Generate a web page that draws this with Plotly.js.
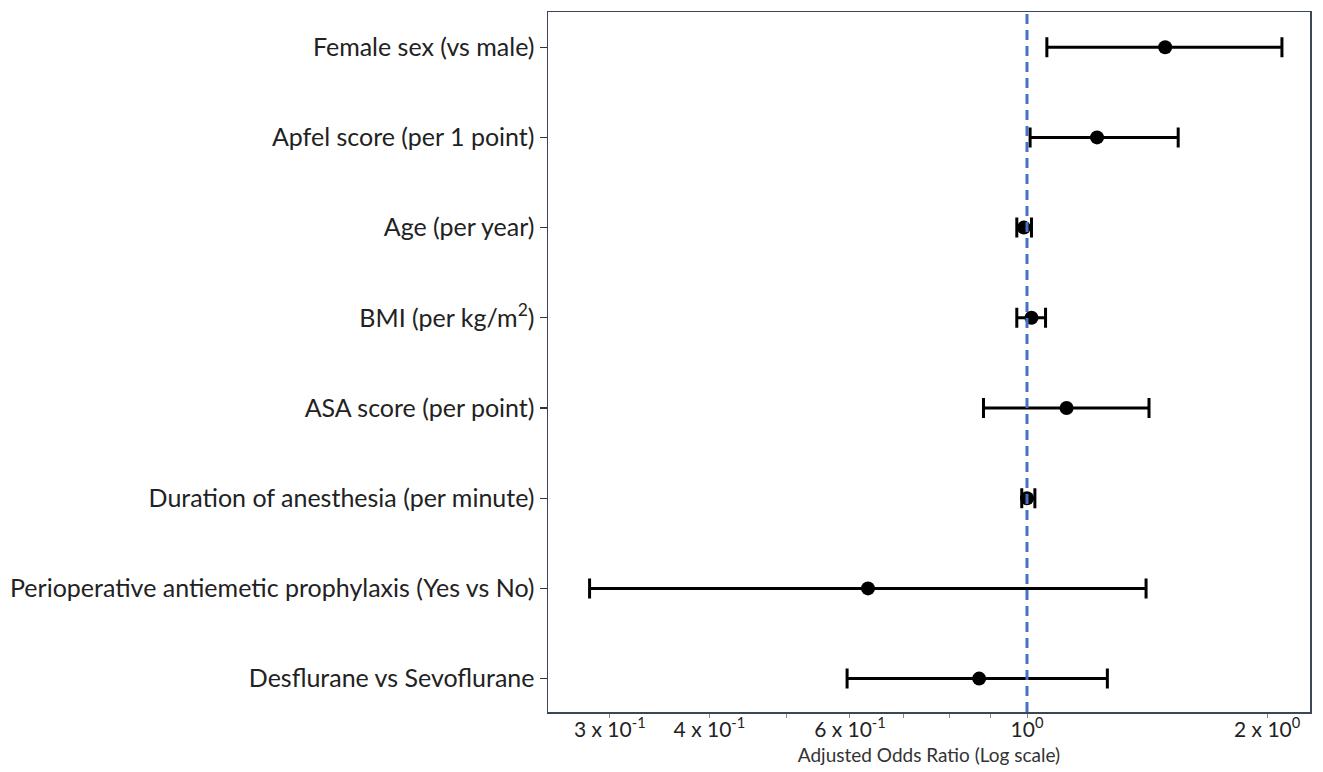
<!DOCTYPE html>
<html>
<head>
<meta charset="utf-8">
<script src="https://cdn.plot.ly/plotly-3.0.1.min.js"></script>
<style>html,body{margin:0;padding:0;background:#fff;}#chart{width:1323px;height:772px;}</style>
</head>
<body>
<div id="chart"></div>
<script>
const labels = [
  "Female sex (vs male)",
  "Apfel score (per 1 point)",
  "Age (per year)",
  "BMI (per kg/m<sup>2</sup>)",
  "ASA score (per point)",
  "Duration of anesthesia (per minute)",
  "Perioperative antiemetic prophylaxis (Yes vs No)",
  "Desflurane vs Sevoflurane"
];
const oddsRatio = [1.49, 1.224, 0.991, 1.013, 1.121, 1.000, 0.632, 0.871];
const ciLow     = [1.059, 1.009, 0.971, 0.971, 0.882, 0.985, 0.283, 0.595];
const ciHigh    = [2.087, 1.547, 1.013, 1.055, 1.422, 1.023, 1.410, 1.261];
const xTickVals = [0.3, 0.4, 0.5, 0.6, 0.7, 0.8, 0.9, 1, 2];
const xTickText = ["3 x 10<sup>-1</sup>", "4 x 10<sup>-1</sup>", "", "6 x 10<sup>-1</sup>", "", "", "", "10<sup>0</sup>", "2 x 10<sup>0</sup>"];

const pos = labels.map((_, i) => i);
const trace = {
  type: "scatter",
  mode: "markers",
  x: oddsRatio,
  y: pos,
  marker: {color: "#000", size: 14},
  error_x: {
    type: "data",
    symmetric: false,
    array: oddsRatio.map((v, i) => ciHigh[i] - v),
    arrayminus: oddsRatio.map((v, i) => v - ciLow[i]),
    color: "#000",
    thickness: 3,
    width: 10
  },
  hoverinfo: "x+y",
  showlegend: false
};

const layout = {
  width: 1323, height: 772,
  margin: {l: 548, r: 13, t: 12, b: 60},
  paper_bgcolor: "#fff", plot_bgcolor: "#fff",
  font: {family: "Lato, 'Open Sans', sans-serif", color: "#222"},
  xaxis: {
    type: "log",
    range: [Math.log10(0.251), Math.log10(2.263)],
    tickvals: xTickVals,
    ticktext: xTickText,
    ticks: "outside", ticklen: 4, tickcolor: "#888", tickwidth: 1,
    ticklabelstandoff: -6,
    tickfont: {size: 21, color: "#222"},
    showgrid: false, zeroline: false,
    showline: true, linecolor: "#3b4656", linewidth: 1.5, mirror: true,
    title: {text: "Adjusted Odds Ratio (Log scale)", font: {size: 19, color: "#333"}, standoff: 9}
  },
  yaxis: {
    range: [7.37, -0.39],
    tickvals: pos,
    ticktext: labels,
    ticks: "outside", ticklen: 7, tickcolor: "#333", tickwidth: 1.2,
    tickfont: {size: 25, color: "#222"},
    showgrid: false, zeroline: false,
    showline: true, linecolor: "#3b4656", linewidth: 1.5, mirror: true
  },
  shapes: [{
    type: "line", xref: "x", yref: "paper",
    x0: 1, x1: 1, y0: 0, y1: 1,
    line: {color: "#4472C4", width: 3, dash: "10px,6px"}
  }]
};

Plotly.newPlot("chart", [trace], layout, {displayModeBar: false, staticPlot: true});
</script>
</body>
</html>
